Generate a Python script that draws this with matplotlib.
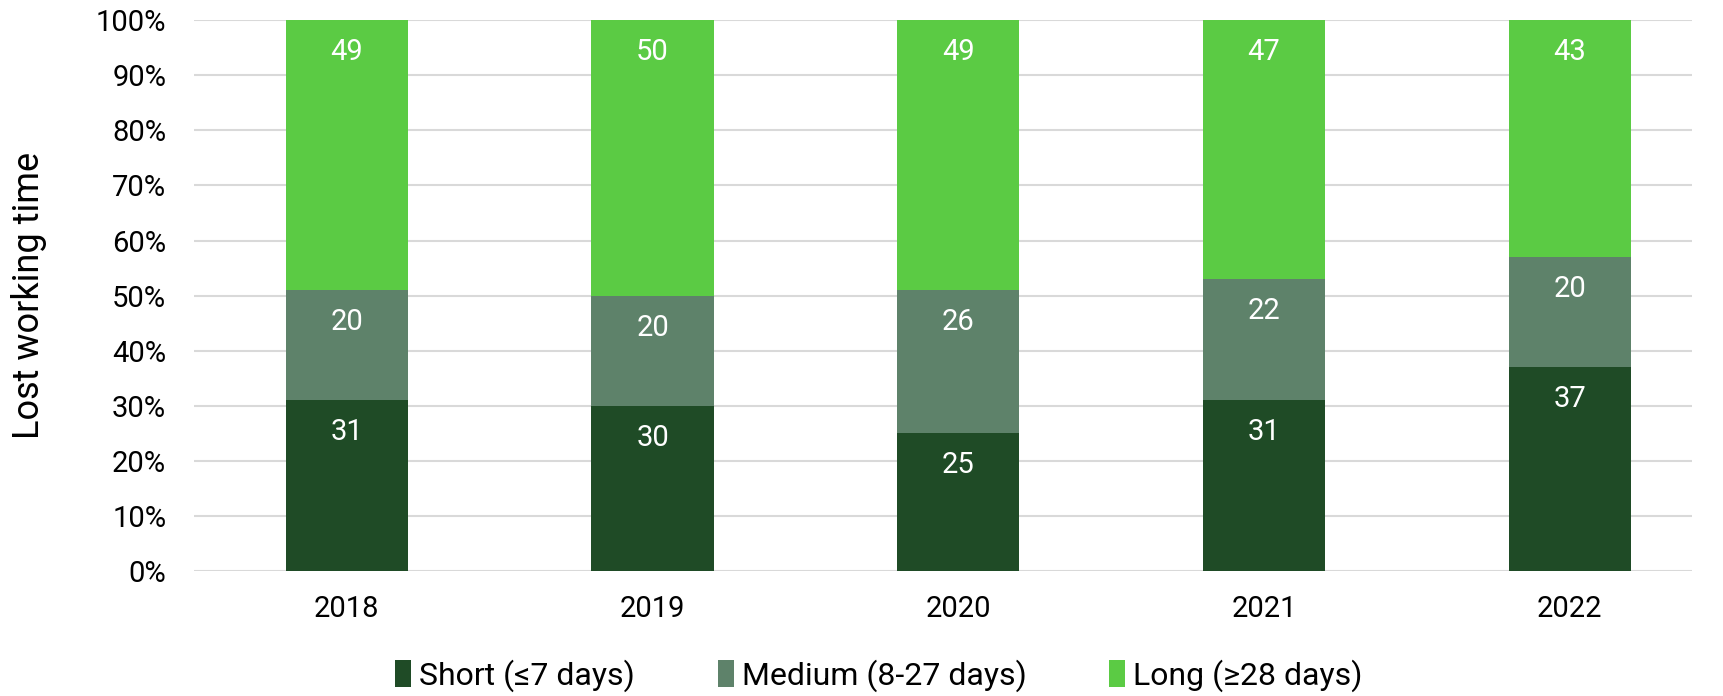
import numpy as np
import matplotlib.pyplot as plt
from matplotlib.ticker import PercentFormatter

# Data (share of lost working time, %)
years = ['2018', '2019', '2020', '2021', '2022']
short = [31, 30, 25, 31, 37]
medium = [20, 20, 26, 22, 20]
long_ = [49, 50, 49, 47, 43]

series = [('Short (≤7 days)', short, '#1f4b26'),
          ('Medium (8-27 days)', medium, '#5e826a'),
          ('Long (≥28 days)', long_, '#5bcb44')]

plt.rcParams['font.family'] = ['Roboto', 'DejaVu Sans']

fig = plt.figure(figsize=(17.23, 6.96), dpi=100)
ax = fig.add_axes([0.1126, 0.1796, 0.8694, 0.7914])

x = np.arange(len(years))
bottom = np.zeros(len(years))
for name, vals, color in series:
    vals = np.array(vals)
    ax.bar(x, vals, 0.4, bottom=bottom, color=color, label=name, zorder=3)
    for xi, b, v in zip(x, bottom, vals):
        ax.annotate(str(v), (xi, b + v), xytext=(0, -23), textcoords='offset points',
                    ha='center', va='center', color='white', fontsize=21, zorder=4)
    bottom += vals

ax.set_xlim(-0.5, 4.4)
ax.set_ylim(0, 100)
ax.set_yticks(np.arange(0, 101, 10))
ax.yaxis.set_major_formatter(PercentFormatter(decimals=0))
ax.set_xticks(x)
ax.set_xticklabels(years)
ax.tick_params(axis='both', length=0, labelsize=21, pad=20)
ax.tick_params(axis='x', pad=17)
ax.grid(axis='y', color='#d9d9d9', linewidth=1.5, zorder=0)
for s in ax.spines.values():
    s.set_visible(False)
fig.text(0.017, 0.575, 'Lost working time', rotation=90, fontsize=26, ha='center', va='center')

fig.legend(loc='lower center', bbox_to_anchor=(0.51, -0.035), ncol=3, frameon=False,
           fontsize=23, handlelength=0.5, handleheight=0.9, handletextpad=0.25,
           columnspacing=2.6)

fig.savefig('out.png', dpi=100)
